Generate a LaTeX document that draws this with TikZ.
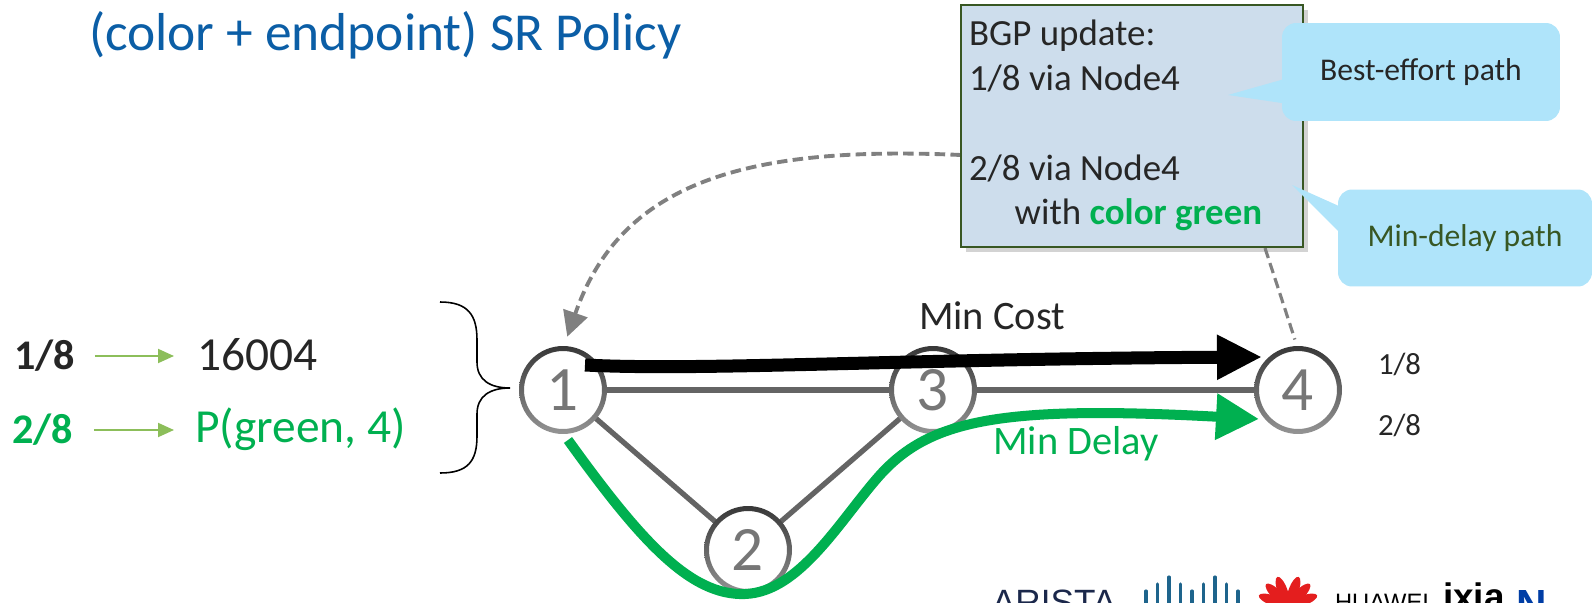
\documentclass[tikz,border=0pt]{standalone}
\usepackage{fontspec}
\setmainfont{Carlito}
\newfontfamily\logofont{Liberation Sans}
\usetikzlibrary{arrows.meta}
\usetikzlibrary{shadows}

\definecolor{titleblue}{RGB}{11,94,166}
\definecolor{pathgreen}{RGB}{0,176,80}
\definecolor{mapgreen}{RGB}{140,190,90}
\definecolor{darktext}{RGB}{38,38,38}
\definecolor{boxfill}{RGB}{205,221,236}
\definecolor{boxline}{RGB}{56,87,35}
\definecolor{calloutfill}{RGB}{175,228,250}
\definecolor{linkgray}{RGB}{100,100,100}
\definecolor{numgray}{RGB}{118,118,118}
\definecolor{dashgray}{RGB}{128,128,128}
\definecolor{aristanavy}{RGB}{27,40,75}
\definecolor{ciscoblue}{RGB}{30,100,140}
\definecolor{huaweired}{RGB}{228,30,30}
\definecolor{logoblue}{RGB}{0,61,165}

\begin{document}
\begin{tikzpicture}[x={(0.02cm,0)}, y={(0,-0.02cm)},
    router/.style={circle, fill=white, minimum size=1.64cm, inner sep=0pt, outer sep=0pt,
        text=numgray, font=\fontsize{36}{40}\selectfont},
    ring/.style={top color=black!78, bottom color=black!42, even odd rule},
    link/.style={draw=linkgray, line width=3pt},
    mincost/.style={draw=black, line width=7.4pt, -{Triangle[length=0.9cm, width=0.84cm]}},
    mindelay/.style={draw=pathgreen, line width=5.7pt, -{Triangle[length=0.86cm, width=0.88cm]}},
    bgpdash/.style={draw=dashgray, line width=2.2pt, dash pattern=on 6pt off 3pt},
    maparrow/.style={draw=mapgreen, line width=1.1pt, -{Triangle[length=0.32cm, width=0.28cm]}},
    callout/.style={fill=calloutfill, rounded corners=8pt, inner sep=0pt, font=\fontsize{18}{22}\selectfont},
    plain/.style={inner sep=0pt, outer sep=0pt},
    ciscobar/.style={draw=ciscoblue, line width=1.8pt, line cap=round}
]
\useasboundingbox (0,0) rectangle (1596,602);

\node[plain, anchor=base west, text=titleblue, font=\fontsize{30.4}{36}\selectfont] (title) at (89,50) {(color + endpoint) SR Policy};

\node[plain, anchor=west, text=darktext, font=\fontsize{24}{28}\selectfont\bfseries] (k1) at (14,356) {1/8};
\node[plain, anchor=west, text=darktext, font=\fontsize{27}{31}\selectfont] (v1) at (197,355) {16004};
\node[plain, anchor=west, text=pathgreen, font=\fontsize{24}{28}\selectfont\bfseries] (k2) at (12,430) {2/8};
\node[plain, anchor=west, text=pathgreen, font=\fontsize{27}{31}\selectfont] (v2) at (195,429) {P(green, 4)};
\draw[maparrow, shorten <=0.4cm, shorten >=0.46cm] (k1.east) -- (v1.west |- k1.east);
\draw[maparrow, shorten <=0.42cm, shorten >=0.42cm] (k2.east) -- (v2.west |- k2.east);

\draw[line width=0.9pt, black] (440,302) .. controls (468,302) and (477,315) .. (477,340) -- (477,362)
    .. controls (477,380) and (490,388) .. (510,388) .. controls (490,388) and (477,396) .. (477,414)
    -- (477,436) .. controls (477,461) and (468,473) .. (440,473);

\node[router] (n1) at (563,390) {1};
\node[router] (n2) at (748,550) {2};
\node[router] (n3) at (933,390) {3};
\node[router] (n4) at (1298,390) {4};
\draw[link] (n1) -- (n3);
\draw[link] (n3) -- (n4);
\draw[link] (n1) -- (n2);
\draw[link] (n2) -- (n3);
\foreach \r in {n1,n2,n3,n4}
    \shade[ring] (\r.center) circle[radius=0.88cm] (\r.center) circle[radius=0.78cm];

\node[plain, anchor=west, text=darktext, font=\fontsize{17.5}{21}\selectfont] (r1) at (1378,364) {1/8};
\node[plain, anchor=west, text=darktext, font=\fontsize{17.5}{21}\selectfont] (r2) at (1378,425) {2/8};

\coordinate (costfrom) at (585,365);
\coordinate (costto) at (1262,357);
\draw[mincost] (costfrom) .. controls (700,371) and (900,359) .. (costto);
\coordinate (delayfrom) at (568,440);
\coordinate (delayto) at (1259,419);
\draw[mindelay] (delayfrom) .. controls (640,540) and (690,596) .. (745,594)
    .. controls (800,592) and (840,520) .. (880,475)
    .. controls (930,420) and (1000,405) .. (delayto);
\node[plain, text=darktext, font=\fontsize{23}{26}\selectfont] (costlbl) at (992,316) {Min Cost};
\node[plain, text=pathgreen, font=\fontsize{23}{26}\selectfont] (delaylbl) at (1076,444) {Min Delay};

\coordinate (bgpout) at (961,155);
\coordinate (bgptail) at (1265,248);
\draw[bgpdash, -{Triangle[length=0.5cm, width=0.5cm]}, shorten >=0.26cm] (bgpout) .. controls (740,145) and (620,185) .. (n1.north);
\draw[bgpdash, line width=1.8pt, shorten >=0.2cm] (bgptail) -- (n4.north);

\node[plain, anchor=north west, draw=boxline, fill=boxfill, line width=1.2pt, minimum width=6.84cm, minimum height=4.84cm,
    drop shadow={shadow xshift=3pt, shadow yshift=-3pt, opacity=0.35}] (bgp) at (961,5) {};
\node[plain, anchor=north west, align=left, text=darktext, font=\fontsize{21}{25.5}\selectfont] (upd) at (969,20)
    {BGP update:\\1/8 via Node4\\[25.5pt]2/8 via Node4\\\hspace*{26pt}with \textcolor{pathgreen}{\bfseries color green}};

\fill[calloutfill] (1228,95) -- (1295,76) -- (1295,105) -- cycle;
\node[callout, minimum width=5.56cm, minimum height=1.96cm, text=darktext] (best) at (1421,72) {Best-effort path};
\fill[calloutfill] (1292,185) -- (1350,211) -- (1350,243) -- cycle;
\node[callout, minimum width=5.08cm, minimum height=1.94cm, text=boxline] (delay) at (1465,238) {Min-delay path};

\begin{scope}
\clip (0,0) rectangle (1596,602);
\node[plain, anchor=north west, text=aristanavy, font=\logofont\fontsize{20}{24}\selectfont] (arista) at (992,590) {ARISTA};
\foreach \x/\h in {0/1,1/2,2/3,3/2,4/1,5/2,6/3,7/2,8/1}
    \draw[ciscobar] ({1146+\x*11.5},610) -- ({1146+\x*11.5},{598-7*\h});
\foreach \a in {-70,-45,-20,20,45,70}
    \fill[huaweired, rotate around={\a:(1288,606)}] (1288,590) ellipse[x radius=0.1cm, y radius=0.3cm];
\node[plain, anchor=north west, text=black, font=\logofont\fontsize{13.5}{16}\selectfont] (huawei) at (1335,594) {HUAWEI};
\node[plain, anchor=north west, text=black, font=\logofont\fontsize{21}{25}\selectfont\bfseries] (ixia) at (1443,583) {ixia};
\node[plain, anchor=north west, text=logoblue, font=\logofont\fontsize{24}{28}\selectfont\bfseries] (nlogo) at (1516,590) {N};
\end{scope}
\end{tikzpicture}
\end{document}
